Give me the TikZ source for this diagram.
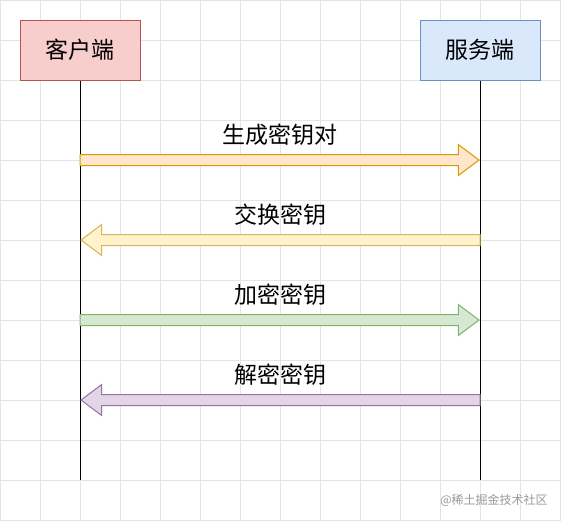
\documentclass[tikz,border=0pt]{standalone}
\usepackage{fontspec}
\setmainfont{Noto Sans CJK SC}
\usetikzlibrary{shapes.arrows, calc, positioning}
\definecolor{clientFill}{HTML}{F8CECC}
\definecolor{clientLine}{HTML}{B85450}
\definecolor{serverFill}{HTML}{DAE8FC}
\definecolor{serverLine}{HTML}{6C8EBF}
\definecolor{genFill}{HTML}{FFE6CC}
\definecolor{genLine}{HTML}{D79B00}
\definecolor{swapFill}{HTML}{FFF2CC}
\definecolor{swapLine}{HTML}{D6B656}
\definecolor{encFill}{HTML}{D5E8D4}
\definecolor{encLine}{HTML}{82B366}
\definecolor{decFill}{HTML}{E1D5E7}
\definecolor{decLine}{HTML}{9673A6}
\definecolor{gridGrey}{HTML}{E4E4E4}
\definecolor{markGrey}{HTML}{9A9A9A}

\begin{document}
\begin{tikzpicture}[
  x=1pt, y=-1pt,
  party/.style={
    rectangle, draw=#1Line, fill=#1Fill, line width=1pt,
    minimum width=120pt, minimum height=60pt, inner sep=0pt,
    font=\fontsize{23}{27}\selectfont,
  },
  lifeline/.style={draw=black, line width=1pt},
  msg/.style={
    single arrow, draw=#1Line, fill=#1Fill, line width=1pt,
    inner sep=0pt, inner ysep=5pt, minimum height=399pt, outer sep=0pt,
    single arrow head extend=10pt, single arrow tip angle=73.7,
  },
  lbl/.style={font=\fontsize{23}{27}\selectfont, inner sep=0pt},
  watermark/.style={font=\fontsize{12}{14}\selectfont, text=markGrey, inner sep=0pt},
]

\useasboundingbox (0,0) rectangle (561,520);
\fill[white] (0,0) rectangle (561,520);
\draw[gridGrey, line width=1pt, step=40pt] (0,0) grid (561,520);

\node[party=client] at (80,50)  (client) {客户端};
\node[party=server] at (480,50) (server) {服务端};

\coordinate (clientEnd) at (80,480);
\coordinate (serverEnd) at (480,480);
\draw[lifeline] (client) -- (clientEnd);
\draw[lifeline] (server) -- (serverEnd);

% message rows, 80pt apart
\coordinate (c1) at (80,160);  \coordinate (s1) at (480,160);
\coordinate (c2) at (80,240);  \coordinate (s2) at (480,240);
\coordinate (c3) at (80,320);  \coordinate (s3) at (480,320);
\coordinate (c4) at (80,400);  \coordinate (s4) at (480,400);

\node[msg=gen, anchor=tail]  at (c1) (gen) {};
\node[msg=swap, anchor=tail, shape border rotate=180] at (s2) (swap) {};
\node[msg=enc, anchor=tail]  at (c3) (enc) {};
\node[msg=dec, anchor=tail, shape border rotate=180]  at (s4) (dec) {};

\node[lbl, above=14pt of $(c1)!0.5!(s1)$]  (genLbl)  {生成密钥对};
\node[lbl, above=14pt of $(c2)!0.5!(s2)$] (swapLbl) {交换密钥};
\node[lbl, above=14pt of $(c3)!0.5!(s3)$]  (encLbl)  {加密密钥};
\node[lbl, above=14pt of $(c4)!0.5!(s4)$]  (decLbl)  {解密密钥};

\node[watermark] at (494,500) (credit) {@稀土掘金技术社区};

\end{tikzpicture}
\end{document}
